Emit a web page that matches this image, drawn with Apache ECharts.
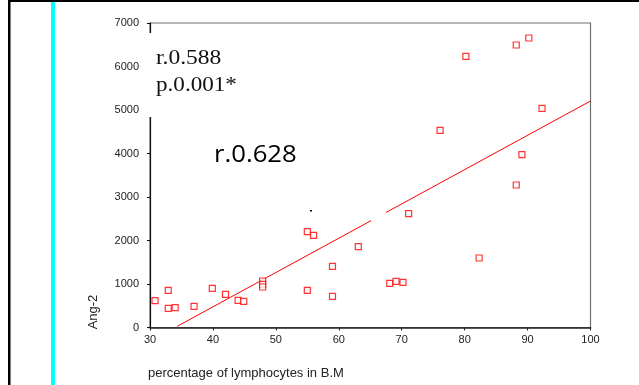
<!DOCTYPE html>
<html>
<head>
<meta charset="utf-8">
<script src="https://cdn.jsdelivr.net/npm/echarts@6/dist/echarts.min.js"></script>
<style>
html,body{margin:0;padding:0;background:#fff;}
#chart{width:639px;height:385px;}
</style>
</head>
<body>
<div id="chart"></div>
<script>
// Scatter points: percentage of lymphocytes in B.M (x) vs Ang-2 (y)
var lymphocytes = [30.8, 32.9, 32.9, 34.0, 37.0, 39.9, 42.0, 44.0, 44.9, 47.9, 47.9, 47.9,
  55.0, 56.0, 55.0, 59.0, 59.0, 63.1, 68.1, 69.1, 70.2, 71.1, 82.3, 88.2, 80.2, 88.2, 90.2, 92.3, 76.1, 89.1];
var ang2 = [616, 855, 441, 455, 487, 901, 763, 625, 602, 1069, 993, 931,
  2203, 2119, 855, 1407, 717, 1858, 1016, 1062, 1039, 2616, 1598, 3276, 6234, 6494, 6655, 5039, 4533, 3972];
// Fitted regression line end points
var fitX = [34.3, 100];
var fitY = [25, 5207];
var xTicks = [30, 40, 50, 60, 70, 80, 90, 100];
var yTicks = [0, 1000, 2000, 3000, 4000, 5000, 6000, 7000];
var xName = 'percentage of lymphocytes in B.M';
var yName = 'Ang-2';
var noteLines = ['r.0.588', 'p.0.001*'];
var noteR = 'r.0.628';

var points = lymphocytes.map(function (v, i) { return [v, ang2[i]]; });
var fit = fitX.map(function (v, i) { return [v, fitY[i]]; });

var chart = echarts.init(document.getElementById('chart'), null, {renderer: 'canvas'});
chart.setOption({
  animation: false,
  backgroundColor: '#fff',
  grid: {left: 150, right: 48.5, top: 23, bottom: 57.5, show: true, borderColor: '#6e6e6e', borderWidth: 1.2, backgroundColor: 'transparent'},
  xAxis: {
    type: 'value', min: xTicks[0], max: xTicks[xTicks.length - 1], interval: 10,
    splitLine: {show: false},
    axisLine: {lineStyle: {color: '#222', width: 1.6}},
    axisTick: {length: 3, lineStyle: {color: '#222'}},
    axisLabel: {color: '#222', fontFamily: 'Arial, "Liberation Sans"', fontSize: 11, margin: 7,
      formatter: function (v) { return String(v); }}
  },
  yAxis: {
    type: 'value', min: yTicks[0], max: yTicks[yTicks.length - 1], interval: 1000,
    splitLine: {show: false},
    axisLine: {lineStyle: {color: '#111', width: 1.2}},
    axisTick: {length: 3, lineStyle: {color: '#111'}},
    axisLabel: {color: '#222', fontFamily: 'Arial, "Liberation Sans"', fontSize: 11, margin: 11,
      formatter: function (v) { return String(v); }}
  },
  series: [
    {
      type: 'line', data: fit, symbol: 'none', z: 2,
      lineStyle: {color: '#ff0000', width: 1}
    },
    {
      type: 'scatter', data: points, symbol: 'rect', symbolSize: 6, z: 3,
      itemStyle: {color: '#ffffff', borderColor: '#ff0000', borderWidth: 1.2}
    }
  ],
  graphic: [
    {type: 'rect', z: 100, shape: {x: 8, y: 0, width: 631, height: 2}, style: {fill: '#000'}},
    {type: 'rect', z: 100, shape: {x: 8, y: 0, width: 2.5, height: 385}, style: {fill: '#000'}},
    {type: 'rect', z: 100, shape: {x: 51, y: 2, width: 4, height: 383}, style: {fill: '#00ffff'}},
    {type: 'rect', z: 100, shape: {x: 141, y: 33, width: 110, height: 84}, style: {fill: '#fff'}},
    {type: 'rect', z: 100, shape: {x: 371, y: 204, width: 15, height: 19}, style: {fill: '#fff'}},
    {type: 'rect', z: 101, shape: {x: 310, y: 210, width: 2, height: 1.5}, style: {fill: '#000'}},
    {type: 'text', z: 102, x: 156, y: 58.3, scaleX: 1.12,
      style: {text: noteLines[0], x: 0, y: 0, font: '21px "Liberation Serif", "Times New Roman", serif', fill: '#111', textAlign: 'left', verticalAlign: 'middle'}},
    {type: 'text', z: 102, x: 156, y: 85.3, scaleX: 1.1,
      style: {text: noteLines[1], x: 0, y: 0, font: '21px "Liberation Serif", "Times New Roman", serif', fill: '#111', textAlign: 'left', verticalAlign: 'middle'}},
    {type: 'text', z: 102, x: 214, y: 155.3, scaleX: 1.07,
      style: {text: noteR, x: 0, y: 0, font: '24px "Open Sans", "Noto Sans", sans-serif', fill: '#000', textAlign: 'left', verticalAlign: 'middle'}},
    {type: 'text', z: 102, x: 93, y: 312, rotation: Math.PI / 2,
      style: {text: yName, x: 0, y: 0, font: '13px Arial, "Liberation Sans", sans-serif', fill: '#222', textAlign: 'center', verticalAlign: 'middle'}},
    {type: 'text', z: 102, x: 148, y: 373,
      style: {text: xName, x: 0, y: 0, font: '13px Arial, "Liberation Sans", sans-serif', fill: '#222', textAlign: 'left', verticalAlign: 'middle'}}
  ]
});
</script>
</body>
</html>
